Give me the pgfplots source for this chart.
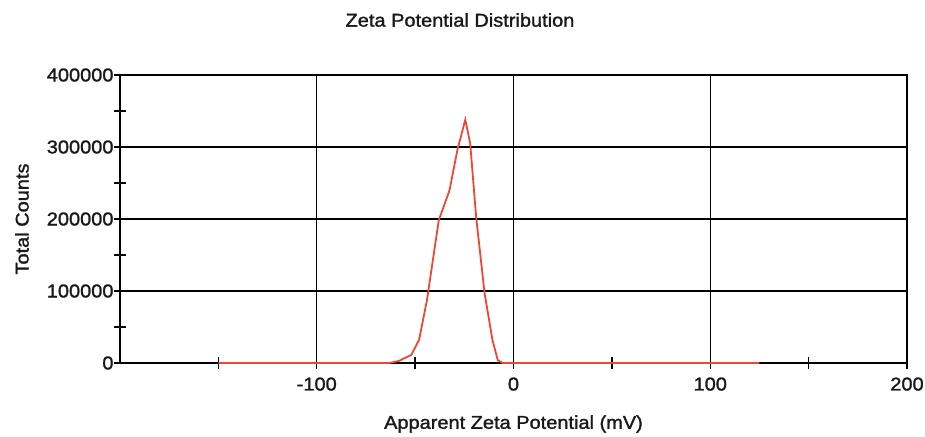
\documentclass[border=0pt]{standalone}
\usepackage{pgfplots}
\pgfplotsset{compat=1.18}
\usepackage{fontspec}
\setmainfont[FakeStretch=1.08, FakeBold=1.5]{Liberation Sans}
\definecolor{curve}{RGB}{236,72,50}
\begin{document}
\begin{tikzpicture}
\useasboundingbox (-120bp,-74bp) rectangle (805bp,363bp);
\begin{axis}[
  at={(0,0)}, anchor=south west,
  scale only axis, width=787bp, height=288bp,
  xmin=-200, xmax=200, ymin=0, ymax=400000,
  xtick={-100,0,100,200},
  minor xtick={-150,-50,50,150},
  ytick={0,100000,200000,300000,400000},
  minor ytick={50000,150000,250000,350000},
  xtick pos=bottom, ytick pos=left,
  tick align=center,
  major tick length=12bp, minor tick length=12bp,
  every tick/.style={black, line width=1.3bp},
  axis line style={line width=1.8bp},
  xmajorgrids, ymajorgrids,
  major grid style={black, line width=1.4bp},
  scaled y ticks=false,
  /pgf/number format/.cd, fixed, 1000 sep={}, assume math mode=true,
  /pgfplots/.cd,
  tick label style={font=\fontsize{18.5bp}{21bp}\selectfont, text=black!90},
  xticklabel style={yshift=-5bp},
  yticklabel style={xshift=3bp},
  clip=false,
]
\addplot[curve, line width=1.8bp] coordinates {
(-150,0) (-63,0) (-58,3000) (-56,6000) (-52,11000) (-48,32000) (-44,87000)
(-38,198000) (-32.5,240000) (-28.5,296000) (-24.5,338000) (-22,305000)
(-19,203000) (-14.7,97000) (-10.7,32000) (-8,4000) (-5.5,0) (125,0)
};
\node[font=\fontsize{18.5bp}{21bp}\selectfont, text=black!90] at ([yshift=55bp]rel axis cs:0.432,1) {Zeta Potential Distribution};
\node[font=\fontsize{18.5bp}{21bp}\selectfont, text=black!90, rotate=90] at ([xshift=-98bp]rel axis cs:0,0.5) {Total Counts};
\node[font=\fontsize{18.5bp}{21bp}\selectfont, text=black!90] at ([yshift=-61bp]rel axis cs:0.5,0) {Apparent Zeta Potential (mV)};
\end{axis}
\end{tikzpicture}
\end{document}
